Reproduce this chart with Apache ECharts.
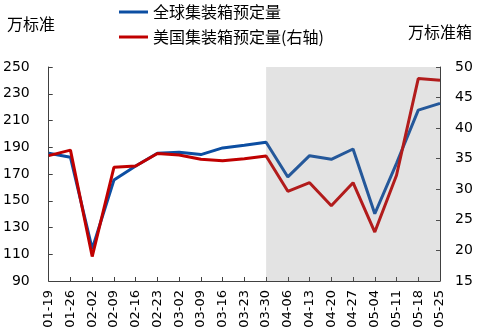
<!DOCTYPE html>
<html>
<head>
<meta charset="utf-8">
<script src="https://cdn.jsdelivr.net/npm/echarts@6/dist/echarts.min.js"></script>
<style>
  html, body { margin: 0; padding: 0; background: #fff; }
  #chart { width: 484px; height: 334px; }
</style>
</head>
<body>
<div id="chart"></div>
<script>
// Weekly container booking volumes
const categories = ['01-19', '01-26', '02-02', '02-09', '02-16', '02-23', '03-02', '03-09', '03-16', '03-23',
  '03-30', '04-06', '04-13', '04-20', '04-27', '05-04', '05-11', '05-18', '05-25'];
const globalBookings = [185.5, 182.5, 114, 165.5, 176, 185.5, 186.3, 184.5, 189.5, 191.5,
  193.7, 167.8, 183.7, 181, 188.7, 140.3, 178, 217.8, 222.8];
const usBookings = [35.5, 36.4, 19.0, 33.6, 33.8, 35.85, 35.6, 34.9, 34.65, 35.0,
  35.44, 29.67, 31.08, 27.32, 31.08, 23.0, 32.3, 48.1, 47.85];
const leftTicks = { min: 90, max: 250, interval: 20 };
const rightTicks = { min: 15, max: 50, interval: 5 };
const shadeRange = ['03-30', '05-25'];

const seriesNames = ['全球集装箱预定量', '美国集装箱预定量(右轴)'];
const labelFont = 'DejaVu Sans';
const cjkFont = 'Noto Sans CJK SC';
const axisColor = '#404040';

const chart = echarts.init(document.getElementById('chart'), null, { renderer: 'canvas' });
chart.setOption({
  animation: false,
  backgroundColor: '#fff',
  grid: { left: 46, right: 44, top: 67, bottom: 53, containLabel: false },
  legend: {
    data: seriesNames,
    orient: 'vertical',
    left: 119,
    top: 3,
    padding: 0,
    icon: 'rect',
    itemWidth: 29,
    itemHeight: 3,
    itemGap: 7,
    textStyle: { fontFamily: cjkFont, fontSize: 16, color: '#000', lineHeight: 18 }
  },
  graphic: [
    { type: 'text', left: 7, top: 16, style: { text: '万标准', font: '16px "' + cjkFont + '"', fill: '#000' } },
    { type: 'text', left: 408, top: 24, style: { text: '万标准箱', font: '16px "' + cjkFont + '"', fill: '#000' } }
  ],
  xAxis: {
    type: 'category',
    data: categories,
    boundaryGap: false,
    axisLine: { lineStyle: { color: axisColor, width: 1 } },
    axisTick: { inside: true, length: 4, alignWithLabel: true, lineStyle: { color: axisColor } },
    axisLabel: { rotate: 90, interval: 0, margin: 9, color: '#000', fontFamily: labelFont, fontSize: 13 },
    splitLine: { show: false }
  },
  yAxis: [
    {
      type: 'value', position: 'left',
      min: leftTicks.min, max: leftTicks.max, interval: leftTicks.interval,
      axisLine: { show: true, lineStyle: { color: axisColor, width: 1 } },
      axisTick: { show: true, inside: true, length: 4, lineStyle: { color: axisColor } },
      axisLabel: { margin: 19, color: '#000', fontFamily: labelFont, fontSize: 14 },
      splitLine: { show: false }
    },
    {
      type: 'value', position: 'right',
      min: rightTicks.min, max: rightTicks.max, interval: rightTicks.interval,
      axisLine: { show: true, lineStyle: { color: axisColor, width: 1 } },
      axisTick: { show: true, inside: true, length: 4, lineStyle: { color: axisColor } },
      axisLabel: { margin: 15, color: '#000', fontFamily: labelFont, fontSize: 14 },
      splitLine: { show: false }
    }
  ],
  series: [
    {
      name: seriesNames[0], type: 'line', yAxisIndex: 0, data: globalBookings,
      symbol: 'none', z: 2,
      lineStyle: { color: '#0c4ea2', width: 3 }, itemStyle: { color: '#0c4ea2' }
    },
    {
      name: seriesNames[1], type: 'line', yAxisIndex: 1, data: usBookings,
      symbol: 'none', z: 3,
      lineStyle: { color: '#c00000', width: 3 }, itemStyle: { color: '#c00000' }
    },
    {
      // translucent band laid over the recent weeks
      name: 'shade', type: 'line', yAxisIndex: 0, data: [], z: 10,
      silent: true,
      markArea: {
        silent: true,
        z: 10,
        itemStyle: { color: 'rgba(128,128,128,0.22)' },
        data: [[{ xAxis: shadeRange[0] }, { xAxis: shadeRange[1] }]]
      }
    }
  ]
});
</script>
</body>
</html>
